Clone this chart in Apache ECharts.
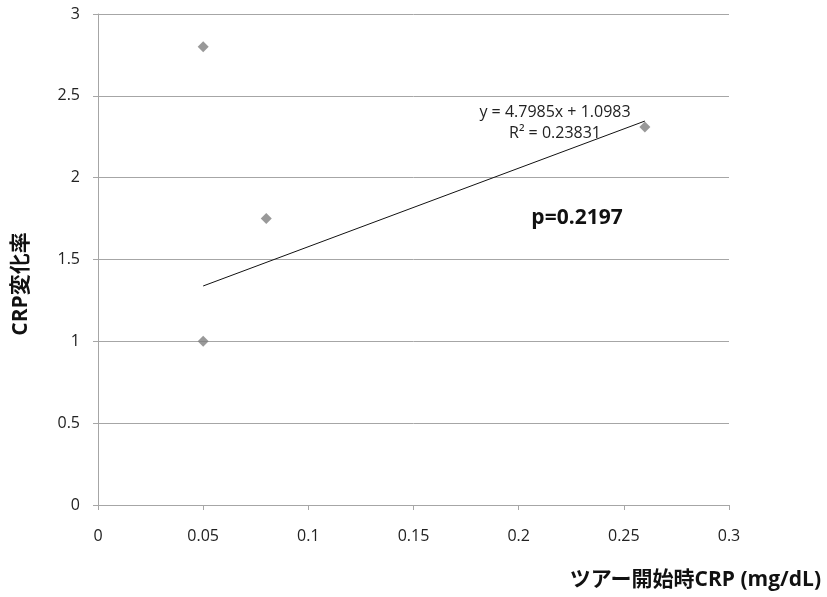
<!DOCTYPE html>
<html><head><meta charset="utf-8">
<script src="https://cdn.jsdelivr.net/npm/echarts@6/dist/echarts.min.js"></script>
<style>html,body{margin:0;padding:0;background:#fff}#c{width:827px;height:597px}</style>
</head><body><div id="c"></div>
<script>
const xValues = [0.05, 0.05, 0.08, 0.26];
const yValues = [2.8, 1.0, 1.75, 2.31];
const trendSlope = 4.7985, trendIntercept = 1.0983;
const trendX = [0.05, 0.26];
const trendText = ['y = 4.7985x + 1.0983', 'R² = 0.23831'];
const pText = 'p=0.2197';
const xTitle = 'ツアー開始時CRP (mg/dL)';
const yTitle = 'CRP変化率';

const font = '"Open Sans", "Noto Sans CJK JP", sans-serif';
const chart = echarts.init(document.getElementById('c'));
chart.setOption({
  animation: false,
  grid: {left: 98, right: 98, top: 14, bottom: 92},
  xAxis: {type: 'value', min: 0, max: 0.3, interval: 0.05,
    axisLine: {show: true, lineStyle: {color: '#a6a6a6'}},
    axisTick: {show: true, length: 5, lineStyle: {color: '#a6a6a6'}},
    splitLine: {show: false},
    axisLabel: {color: '#222', fontSize: 16, fontFamily: font, margin: 23,
      formatter: v => String(parseFloat(v.toFixed(2)))}},
  yAxis: {type: 'value', min: 0, max: 3, interval: 0.5,
    axisLine: {show: true, lineStyle: {color: '#a6a6a6'}},
    axisTick: {show: true, length: 5, lineStyle: {color: '#a6a6a6'}},
    splitLine: {show: true, lineStyle: {color: '#a6a6a6'}},
    axisLabel: {color: '#222', fontSize: 16, fontFamily: font, margin: 18}},
  series: [
    {type: 'scatter', symbol: 'diamond', symbolSize: 11,
      itemStyle: {color: '#7f7f7f'},
      data: xValues.map((x, i) => [x, yValues[i]])},
    {type: 'line', symbol: 'none', silent: true,
      lineStyle: {color: '#111', width: 1},
      data: trendX.map(x => [x, trendSlope * x + trendIntercept])}
  ],
  graphic: [
    {type: 'text', x: 555, y: 112, style: {text: trendText[0], fill: '#222', font: '16px ' + font, align: 'center', verticalAlign: 'middle'}},
    {type: 'text', x: 555, y: 133, style: {text: trendText[1], fill: '#222', font: '16px ' + font, align: 'center', verticalAlign: 'middle'}},
    {type: 'text', x: 577, y: 218, style: {text: pText, fill: '#111', font: 'bold 21px ' + font, align: 'center', verticalAlign: 'middle'}},
    {type: 'text', x: 821, y: 580, style: {text: xTitle, fill: '#111', font: 'bold 21px ' + font, align: 'right', verticalAlign: 'middle'}},
    {type: 'text', x: 21, y: 284, rotation: Math.PI / 2, style: {text: yTitle, fill: '#111', font: 'bold 21px ' + font, align: 'center', verticalAlign: 'middle'}}
  ]
});
</script></body></html>
